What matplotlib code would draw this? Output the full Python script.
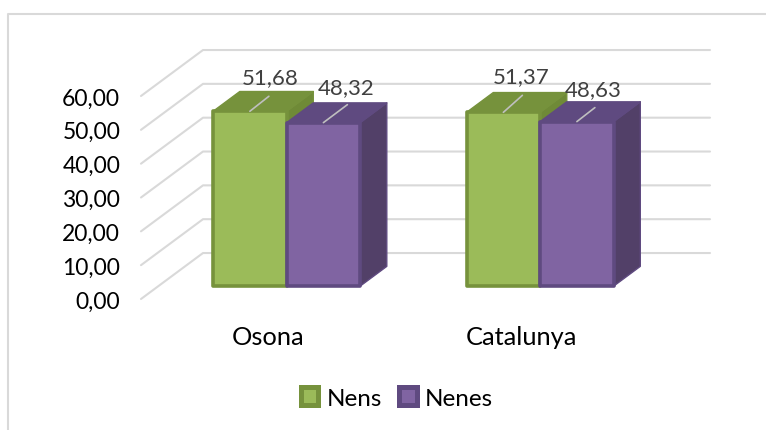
import matplotlib
matplotlib.use("Agg")
import matplotlib.pyplot as plt
from matplotlib.patches import Polygon, Rectangle
from matplotlib.lines import Line2D

plt.rcParams['font.family'] = ['Lato', 'DejaVu Sans']

categories = ["Osona", "Catalunya"]
series_names = ["Nens", "Nenes"]
nens = [51.68, 51.37]
nenes = [48.32, 48.63]
y_ticks = [0, 10, 20, 30, 40, 50, 60]

W, H = 766, 431
GREEN = ("#9bbb59", "#76923c", "#6f8a37")
PURPLE = ("#8064a2", "#5f4a80", "#524068")
GRID = "#d9d9d9"

fig = plt.figure(figsize=(W / 100, H / 100), dpi=100)
# front plane of the 3d box: 141..648 px wide, 97..300 px high
ax = fig.add_axes([141 / W, 1 - 300 / H, 507 / W, 203 / H])
ax.set_xlim(0, 2)
ax.set_ylim(0, 60)
for s in ax.spines.values():
    s.set_visible(False)

# depth of the box in data units
DX = 62 / 253.5
DY = 46 / 3.385


def proj(x, v, z):
    return x + z * DX, v + z * DY


# gridlines: floor/wall diagonal plus back wall
for v in y_ticks:
    ax.plot([0, DX, 2 + DX], [v, v + DY, v + DY], color=GRID, lw=1.5,
            clip_on=False, zorder=1, solid_capstyle="round")


def bar3d(x0, w, v, cols, zorder):
    z0, z1 = 0.28, 0.71
    x1 = x0 + w
    side = [proj(x1, 0, z0), proj(x1, 0, z1), proj(x1, v, z1), proj(x1, v, z0)]
    top = [proj(x0, v, z0), proj(x1, v, z0), proj(x1, v, z1), proj(x0, v, z1)]
    front = [proj(x0, 0, z0), proj(x1, 0, z0), proj(x1, v, z0), proj(x0, v, z0)]
    ax.add_patch(Polygon(side, fc=cols[2], ec=cols[1], lw=1, clip_on=False, zorder=zorder, joinstyle="round"))
    ax.add_patch(Polygon(top, fc=cols[1], ec=cols[1], lw=1, clip_on=False, zorder=zorder, joinstyle="round"))
    ax.add_patch(Polygon(front, fc=cols[0], ec=cols[1], lw=2.6, clip_on=False, zorder=zorder + 0.1, joinstyle="round"))


BW = 0.29
# label and leader offsets from the bar top, in px (text x, text y, leader x, leader y)
label_offsets = [[(20, 34, 19, 15), (23, 36, 24, 18)],
                 [(18, 36, 19, 17), (16, 33, 18, 14)]]
for i in range(len(categories)):
    c = i + 0.5 + 0.006
    bar3d(c - BW, BW, nens[i], GREEN, 3)
    bar3d(c, BW, nenes[i], PURPLE, 4)
    for x0, v, off in [(c - BW, nens[i], label_offsets[i][0]),
                       (c, nenes[i], label_offsets[i][1])]:
        tx, ty, lx, ly = off
        xy = proj(x0 + BW / 2, v, 0.28)
        ax.annotate("", xy=xy, xytext=(lx * 0.72, ly * 0.72), textcoords="offset points",
                    arrowprops=dict(arrowstyle="-", color="#bfbfbf", lw=1.2, shrinkA=0, shrinkB=0),
                    zorder=6, annotation_clip=False)
        ax.annotate(f"{v:.2f}".replace(".", ","), xy=xy, xytext=(tx * 0.72, ty * 0.72),
                    textcoords="offset points", ha="center", va="center", fontsize=16,
                    color="#404040", zorder=7, annotation_clip=False)

ax.set_yticks(y_ticks)
ax.set_yticklabels([f"{v:.2f}".replace(".", ",") for v in y_ticks], fontsize=16.5, color="black")
ax.tick_params(axis="y", length=0, pad=15)
ax.set_xticks([0.5, 1.5])
ax.set_xticklabels(categories, fontsize=18.3, color="black")
ax.tick_params(axis="x", length=0, pad=19)

# chart frame, only top and left edges show
fig.add_artist(Line2D([8 / W, 8 / W, 1], [0, 1 - 15 / H, 1 - 15 / H],
                      color="#d9d9d9", lw=1.5, transform=fig.transFigure))

handles = [Rectangle((0, 0), 1, 1, fc=GREEN[0], ec=GREEN[1], lw=3.6),
           Rectangle((0, 0), 1, 1, fc=PURPLE[0], ec=PURPLE[1], lw=3.6)]
fig.legend(handles, series_names, loc="center", bbox_to_anchor=(397 / W, 1 - 399 / H),
           ncol=2, frameon=False, fontsize=17.5, handlelength=0.72, handleheight=0.72,
           handletextpad=0.35, columnspacing=0.7)

fig.savefig("out.png", dpi=100)
